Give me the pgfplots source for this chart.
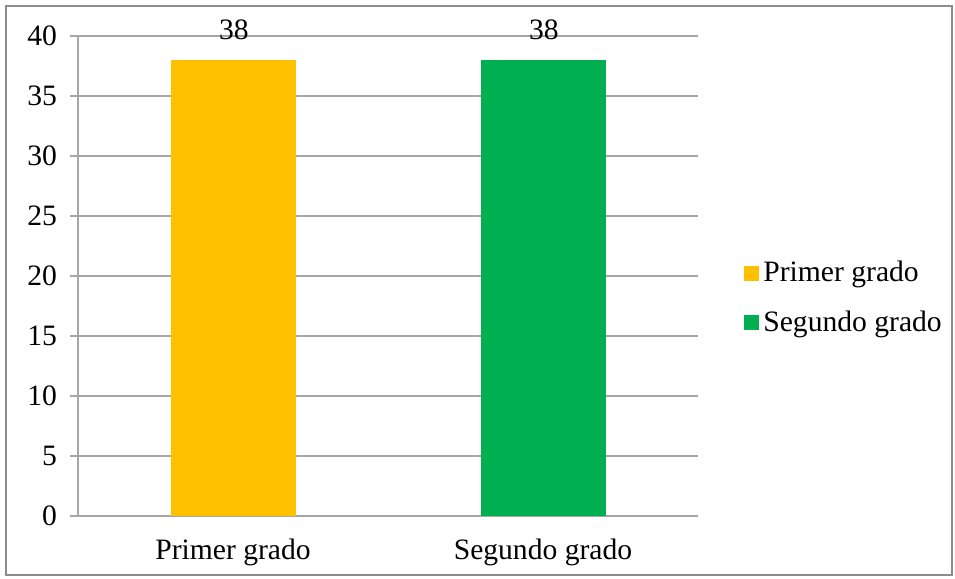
\documentclass[border=0pt]{standalone}
\usepackage{fontspec}
\setmainfont{Liberation Serif}
\usepackage{pgfplots}
\pgfplotsset{compat=1.18}
\definecolor{barY}{HTML}{FFC000}
\definecolor{barG}{HTML}{00B050}
\definecolor{gridG}{HTML}{A6A6A6}
\definecolor{frameG}{HTML}{8C8C8C}
\begin{document}
\begin{tikzpicture}
\useasboundingbox (-39pt,-31.5pt) rectangle (438.5pt,258pt);
\draw[frameG, line width=0.9pt] (-36pt,-29.5pt) rectangle (437pt,255pt);
\begin{axis}[
  at={(0pt,0pt)}, anchor=south west,
  scale only axis, width=310pt, height=240pt,
  font=\fontsize{14.8}{16}\selectfont,
  /pgf/number format/assume math mode=true,
  ybar, bar width=62.5pt, bar shift=0.5pt,
  ymin=0, ymax=40, ytick={0,5,...,40},
  xmin=-0.5, xmax=1.5,
  xtick={0,1}, xticklabels={Primer grado, Segundo grado},
  major x tick style={draw=none},
  extra x ticks={-0.5,0.5,1.5}, extra x tick labels={},
  extra x tick style={major tick length=4pt, tick style={draw=gridG, line width=0.8pt}, grid=none},
  tick align=outside, major tick length=4pt,
  ytick style={draw=gridG, line width=0.8pt},
  ymajorgrids, grid style={gridG, line width=0.8pt},
  axis x line*=bottom, axis y line*=left,
  axis line style={gridG, line width=0.8pt, -},
  x tick label style={yshift=-4pt},
  y tick label style={xshift=-3pt},
  nodes near coords, nodes near coords style={yshift=6.5pt, text=black},
  legend style={draw=none, at={(330pt,109pt)}, anchor=west, fill=none,
    row sep=9pt, font=\fontsize{14.8}{16}\selectfont},
  legend cell align=left,
  legend image code/.code={\fill[#1] (0pt,-3.75pt) rectangle (7.5pt,3.75pt);},
]
\addplot[fill=barY, draw=none] coordinates {(0,38)};
\addlegendentry{Primer grado}
\addplot[fill=barG, draw=none] coordinates {(1,38)};
\addlegendentry{Segundo grado}
\end{axis}
\end{tikzpicture}
\end{document}
